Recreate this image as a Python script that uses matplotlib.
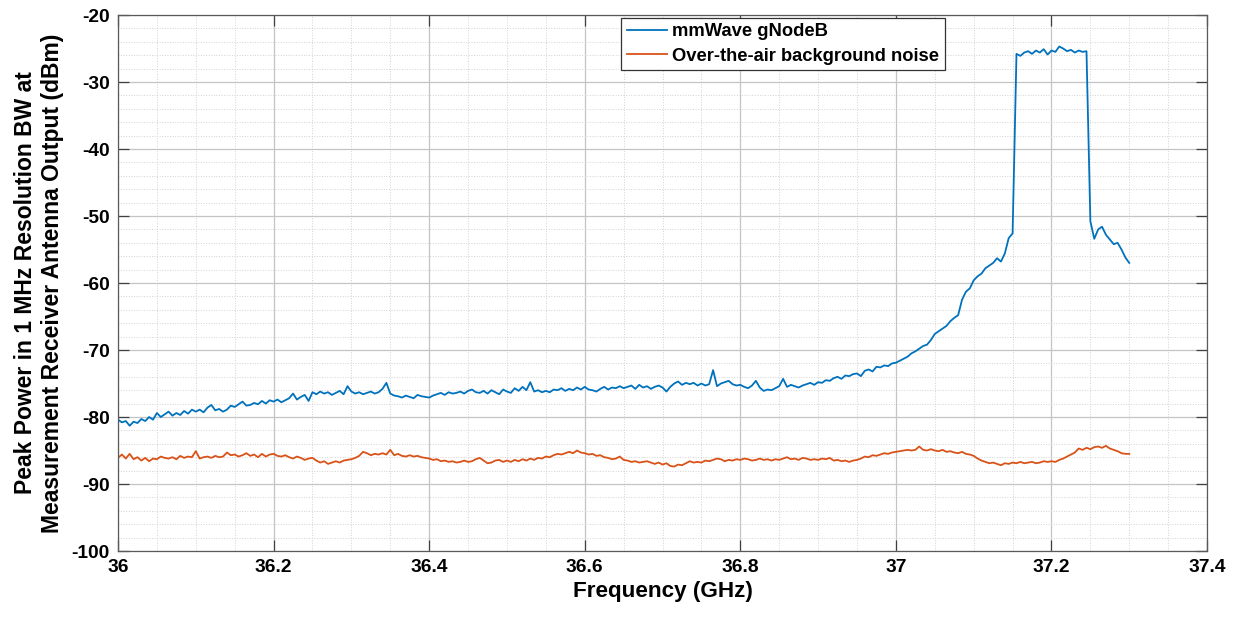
import matplotlib
matplotlib.use("Agg")
import matplotlib.pyplot as plt
import numpy as np
from matplotlib.ticker import MultipleLocator

plt.rcParams["font.family"] = ["Liberation Sans", "DejaVu Sans"]
plt.rcParams["font.weight"] = "bold"
plt.rcParams["axes.unicode_minus"] = False

# frequency samples, 36.000 .. 37.300 GHz every 5 MHz
freq_ghz = np.linspace(36.0, 37.3, 261)

# mmWave gNodeB trace (dBm), one row per 50 MHz
gnodeb_dbm = [
    -80.4, -80.8, -80.6, -81.3, -80.7, -80.9, -80.3, -80.6, -80.0, -80.4,
    -79.4, -80.0, -79.6, -79.2, -79.8, -79.4, -79.7, -79.1, -79.5, -78.9,
    -79.2, -78.9, -79.3, -78.6, -78.2, -79.0, -78.8, -79.2, -78.9, -78.3,
    -78.5, -78.1, -77.7, -78.3, -78.2, -77.9, -78.1, -77.6, -78.0, -77.5,
    -77.7, -77.4, -77.8, -77.5, -77.2, -76.5, -77.4, -77.0, -76.7, -77.6,
    -76.3, -76.6, -76.2, -76.5, -76.3, -76.7, -76.4, -76.1, -76.6, -75.4,
    -76.2, -76.5, -76.3, -76.6, -76.4, -76.2, -76.5, -76.3, -75.8, -74.9,
    -76.5, -76.8, -76.9, -77.1, -76.8, -77.0, -77.2, -76.7, -76.9, -77.0,
    -77.1, -76.8, -76.6, -76.4, -76.7, -76.3, -76.5, -76.4, -76.2, -76.5,
    -76.1, -75.9, -76.3, -76.4, -76.1, -76.5, -76.0, -76.3, -76.6, -75.9,
    -76.2, -76.4, -75.7, -76.1, -75.5, -76.0, -74.8, -76.2, -76.0, -76.3,
    -76.1, -76.3, -75.9, -76.0, -75.7, -76.1, -75.8, -76.0, -75.6, -75.9,
    -75.5, -75.9, -76.0, -76.2, -75.8, -75.5, -75.9, -75.6, -75.7, -75.4,
    -75.7, -75.5, -75.3, -75.8, -75.2, -75.6, -75.4, -75.8, -75.5, -75.3,
    -75.6, -76.2, -75.5, -75.0, -74.7, -75.2, -74.9, -75.1, -74.9, -75.3,
    -75.0, -75.3, -75.1, -73.0, -75.4, -75.0, -74.8, -74.6, -75.1, -75.3,
    -75.2, -75.5, -75.7, -75.3, -74.6, -75.6, -76.1, -75.9, -76.0, -75.7,
    -75.4, -74.3, -75.5, -75.2, -75.4, -75.6, -75.3, -75.1, -74.9, -75.2,
    -74.8, -74.9, -74.5, -74.6, -74.2, -74.0, -74.3, -73.8, -73.9, -73.6,
    -73.5, -73.9, -73.1, -72.9, -73.2, -72.5, -72.6, -72.3, -72.4, -72.0,
    -71.9, -71.6, -71.3, -71.0, -70.5, -70.2, -69.8, -69.4, -69.2, -68.5,
    -67.6, -67.2, -66.8, -66.4, -65.7, -65.2, -64.8, -62.5, -61.3, -60.8,
    -59.6, -59.0, -58.6, -57.8, -57.4, -57.0, -56.3, -56.8, -55.6, -53.3,
    -52.6, -25.8, -26.1, -25.6, -25.4, -25.8, -25.3, -25.6, -25.1, -25.9,
    -25.3, -25.5, -24.7, -25.0, -25.4, -25.2, -25.6, -25.3, -25.5, -25.4,
    -50.8, -53.4, -52.0, -51.6, -52.8, -53.5, -54.2, -54.0, -55.0, -56.2,
    -57.0,
]

# over-the-air background noise trace (dBm)
noise_dbm = [
    -86.1, -85.6, -86.2, -85.5, -86.3, -86.0, -86.5, -86.1, -86.6, -86.2,
    -86.3, -85.9, -86.1, -86.2, -86.0, -86.3, -85.8, -86.1, -85.9, -86.0,
    -85.1, -86.2, -86.0, -85.9, -86.1, -85.8, -86.0, -85.9, -85.3, -85.7,
    -85.6, -85.9, -85.7, -85.4, -85.8, -85.6, -86.0, -85.5, -85.9, -85.6,
    -85.5, -85.8, -85.9, -85.7, -86.0, -86.2, -85.9, -86.1, -86.4, -86.2,
    -86.1, -86.5, -86.8, -86.6, -87.0, -86.8, -86.6, -86.8, -86.5, -86.4,
    -86.3, -86.1, -85.8, -85.2, -85.4, -85.7, -85.5, -85.6, -85.4, -85.6,
    -84.9, -85.7, -85.5, -85.8, -85.9, -85.7, -85.9, -85.8, -86.0, -86.1,
    -86.2, -86.4, -86.3, -86.6, -86.5, -86.7, -86.6, -86.8, -86.7, -86.5,
    -86.7, -86.6, -86.3, -86.1, -86.5, -86.9, -86.8, -86.5, -86.4, -86.7,
    -86.5, -86.7, -86.4, -86.6, -86.3, -86.5, -86.2, -86.4, -86.1, -86.2,
    -85.9, -86.0, -85.7, -85.5, -85.6, -85.4, -85.2, -85.4, -85.0, -85.3,
    -85.4, -85.6, -85.5, -85.8, -85.7, -86.0, -86.1, -86.3, -86.2, -85.9,
    -86.4, -86.5, -86.7, -86.6, -86.8, -86.7, -86.6, -86.8, -87.0, -86.8,
    -87.1, -86.9, -87.3, -87.4, -87.1, -87.2, -86.9, -86.6, -86.8, -86.7,
    -86.8, -86.5, -86.6, -86.4, -86.2, -86.3, -86.6, -86.4, -86.5, -86.3,
    -86.4, -86.2, -86.3, -86.5, -86.4, -86.2, -86.4, -86.3, -86.5, -86.3,
    -86.4, -86.2, -86.0, -86.3, -86.2, -86.4, -86.1, -86.2, -86.4, -86.3,
    -86.4, -86.2, -86.3, -86.1, -86.5, -86.4, -86.6, -86.5, -86.7, -86.5,
    -86.4, -86.2, -85.9, -86.0, -85.7, -85.8, -85.6, -85.4, -85.5, -85.3,
    -85.2, -85.1, -85.0, -84.9, -85.0, -84.9, -84.4, -84.9, -85.0, -84.8,
    -85.0, -85.1, -84.9, -85.2, -85.1, -85.3, -85.4, -85.2, -85.5, -85.6,
    -85.8, -86.2, -86.5, -86.7, -86.9, -86.8, -87.0, -87.2, -86.9, -87.0,
    -86.8, -86.9, -86.7, -86.9, -86.8, -86.7, -86.9, -86.8, -86.6, -86.7,
    -86.6, -86.7, -86.4, -86.2, -85.9, -85.6, -85.3, -84.7, -84.9, -84.6,
    -84.8, -84.5, -84.4, -84.6, -84.3, -84.7, -84.9, -85.1, -85.4, -85.5,
    -85.5,
]

BLUE, ORANGE = "#0072BD", "#D95319"

fig = plt.figure(figsize=(12.37, 6.18), dpi=100)
ax = fig.add_axes([0.0954, 0.1084, 0.8804, 0.8673])

ax.plot(freq_ghz, gnodeb_dbm, color=BLUE, lw=1.3, label="mmWave gNodeB")
ax.plot(freq_ghz, noise_dbm, color=ORANGE, lw=1.3, label="Over-the-air background noise")

ax.set_xlim(36, 37.4)
ax.set_ylim(-100, -20)
ax.xaxis.set_major_locator(MultipleLocator(0.2))
ax.xaxis.set_minor_locator(MultipleLocator(0.05))
ax.yaxis.set_major_locator(MultipleLocator(10))
ax.yaxis.set_minor_locator(MultipleLocator(2))
ax.set_xticklabels([f"{v:g}" for v in ax.get_xticks()])

ax.grid(which="major", color="#c4c4c4", lw=0.9, ls="-")
ax.grid(which="minor", color="#d2d2d2", lw=0.7, ls=":")
ax.set_axisbelow(True)
ax.tick_params(which="major", direction="in", length=8, width=0.9, color="#404040",
               top=True, right=True, labelsize=13.8, pad=6)
ax.tick_params(which="minor", length=0)
for sp in ax.spines.values():
    sp.set_color("#5a5a5a")
    sp.set_linewidth(0.9)

ax.set_xlabel("Frequency (GHz)", fontsize=16.2, fontweight="bold", labelpad=3)
ax.set_ylabel("Peak Power in 1 MHz Resolution BW at\nMeasurement Receiver Antenna Output (dBm)",
              fontsize=16.5, fontweight="bold", labelpad=5, linespacing=1.25)

leg = ax.legend(loc="upper left", bbox_to_anchor=(0.462, 0.995), fontsize=13.2, frameon=True,
                fancybox=False, handlelength=2.2, handletextpad=0.3, borderpad=0.3,
                labelspacing=0.4, borderaxespad=0)
leg.get_frame().set_edgecolor("#333333")
leg.get_frame().set_linewidth(0.9)
leg.get_frame().set_alpha(1)
for t in leg.get_texts():
    t.set_fontweight("bold")

fig.savefig("out.png", dpi=100)
